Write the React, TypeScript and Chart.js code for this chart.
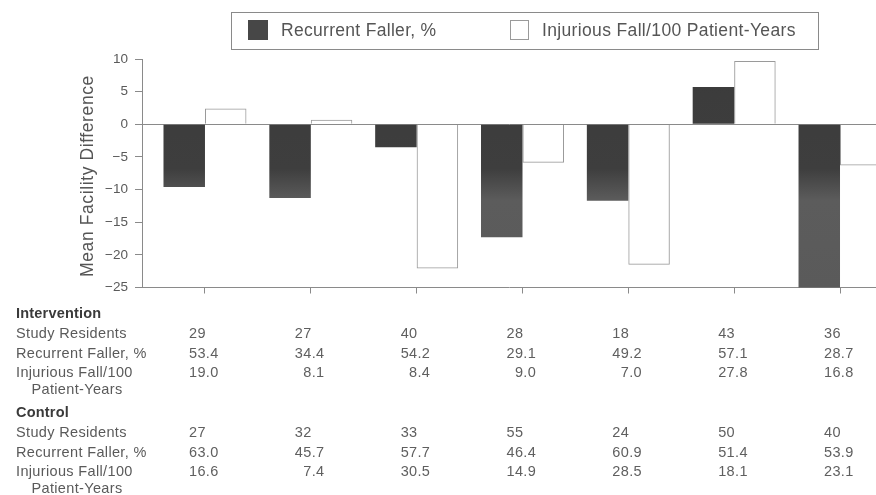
import React, { useEffect, useRef } from 'react';
import { Chart, registerables } from 'chart.js';

Chart.register(...registerables);

// ---- data ----
const facilityIndex = [0, 1, 2, 3, 4, 5, 6];
const seriesLabels = ['Recurrent Faller, %', 'Injurious Fall/100 Patient-Years'];
const recurrentFallerDiff = [-9.6, -11.3, -3.5, -17.3, -11.7, 5.7, -25.2];
const injuriousFallDiff = [2.4, 0.7, -22.1, -5.9, -21.5, 9.7, -6.3];
const yAxisTitle = 'Mean Facility Difference';
const yTickValues = [10, 5, 0, -5, -10, -15, -20, -25];

const interventionResidents = ['29', '27', '40', '28', '18', '43', '36'];
const interventionRecurrent = ['53.4', '34.4', '54.2', '29.1', '49.2', '57.1', '28.7'];
const interventionInjurious = ['19.0', '8.1', '8.4', '9.0', '7.0', '27.8', '16.8'];
const controlResidents = ['27', '32', '33', '55', '24', '50', '40'];
const controlRecurrent = ['63.0', '45.7', '57.7', '46.4', '60.9', '51.4', '53.9'];
const controlInjurious = ['16.6', '7.4', '30.5', '14.9', '28.5', '18.1', '23.1'];

const groupHeaders = ['Intervention', 'Control'];
const rowLabels = ['Study Residents', 'Recurrent Faller, %', 'Injurious Fall/100'];
const rowLabelCont = 'Patient-Years';

// ---- layout / style ----
const W = 876;
const H = 495;
const FONT = '"Liberation Sans", Arial, Helvetica, sans-serif';
const TEXT = '#555';
const AXIS = '#8a8a8a';

function drawText(
  ctx: CanvasRenderingContext2D,
  text: string,
  x: number,
  y: number,
  font: string,
  color: string,
  align: CanvasTextAlign = 'left',
  spacing = 0
) {
  ctx.save();
  ctx.font = font;
  ctx.fillStyle = color;
  ctx.textAlign = align;
  ctx.textBaseline = 'middle';
  (ctx as any).letterSpacing = spacing + 'px';
  ctx.fillText(text, x, y);
  ctx.restore();
}

function measure(ctx: CanvasRenderingContext2D, text: string, font: string, spacing: number) {
  ctx.save();
  ctx.font = font;
  (ctx as any).letterSpacing = spacing + 'px';
  const w = ctx.measureText(text).width;
  ctx.restore();
  return w;
}

const decorPlugin = {
  id: 'decor',
  afterDraw(chart: any) {
    const ctx: CanvasRenderingContext2D = chart.ctx;
    const xs = chart.scales.x;

    // legend box
    ctx.save();
    ctx.strokeStyle = AXIS;
    ctx.lineWidth = 1;
    ctx.strokeRect(231.5, 12.5, 587, 37);
    ctx.fillStyle = '#474747';
    ctx.fillRect(248, 20, 20, 20);
    ctx.strokeStyle = '#9a9a9a';
    ctx.strokeRect(510.5, 20.5, 18, 19);
    ctx.restore();
    const legendFont = `17.5px ${FONT}`;
    drawText(ctx, seriesLabels[0], 281, 31, legendFont, TEXT, 'left', 0.3);
    drawText(ctx, seriesLabels[1], 542, 31, legendFont, TEXT, 'left', 0.35);

    // y-axis title
    ctx.save();
    ctx.translate(88, 176);
    ctx.rotate(-Math.PI / 2);
    drawText(ctx, yAxisTitle, 0, 0, `17.5px ${FONT}`, TEXT, 'center', 0.6);
    ctx.restore();

    // table
    const labelFont = `14.5px ${FONT}`;
    const boldFont = `bold 14.5px ${FONT}`;
    const sp = 0.35;
    const decW = measure(ctx, '00.0', labelFont, sp);
    const groups = [
      { header: groupHeaders[0], rows: [interventionResidents, interventionRecurrent, interventionInjurious], y0: 314 },
      { header: groupHeaders[1], rows: [controlResidents, controlRecurrent, controlInjurious], y0: 413 },
    ];
    const rowOffsets = [20, 40, 59];
    groups.forEach((g) => {
      drawText(ctx, g.header, 16, g.y0, boldFont, '#3a3a3a', 'left', 0.2);
      g.rows.forEach((vals, r) => {
        const y = g.y0 + rowOffsets[r];
        drawText(ctx, rowLabels[r], 16, y, labelFont, '#5a5a5a', 'left', sp);
        vals.forEach((v, i) => {
          const cx = xs.getPixelForValue(facilityIndex[i]) - 16;
          if (v.includes('.')) {
            drawText(ctx, v, cx + decW, y, labelFont, '#5f5f5f', 'right', sp);
          } else {
            drawText(ctx, v, cx, y, labelFont, '#5f5f5f', 'left', sp);
          }
        });
      });
      drawText(ctx, rowLabelCont, 77, g.y0 + 76, labelFont, '#5a5a5a', 'center', sp);
    });
  },
};

export default function App() {
  const ref = useRef<HTMLCanvasElement | null>(null);

  useEffect(() => {
    document.body.style.margin = '0';
    const canvas = ref.current;
    if (!canvas) return;

    const darkFill = (c: any) => {
      const area = c.chart.chartArea;
      if (!area) return '#3e3e3e';
      const g = c.chart.ctx.createLinearGradient(0, area.top, 0, area.bottom);
      g.addColorStop(0, '#3b3b3b');
      g.addColorStop(0.48, '#3e3e3e');
      g.addColorStop(0.62, '#5c5c5c');
      g.addColorStop(1, '#5a5a5a');
      return g;
    };

    const chart = new Chart(canvas, {
      type: 'bar',
      data: {
        datasets: [
          {
            label: seriesLabels[0],
            data: facilityIndex.map((x, i) => ({ x, y: recurrentFallerDiff[i] })),
            backgroundColor: darkFill,
            borderWidth: 0,
          },
          {
            label: seriesLabels[1],
            data: facilityIndex.map((x, i) => ({ x, y: injuriousFallDiff[i] })),
            backgroundColor: 'rgba(255,255,255,0)',
            borderColor: '#9a9a9a',
            borderWidth: 1,
          },
        ],
      } as any,
      options: {
        animation: false,
        responsive: false,
        devicePixelRatio: 1,
        layout: { padding: { top: 59, left: 0, right: 0, bottom: 0 } },
        datasets: {
          bar: { barPercentage: 1, categoryPercentage: 0.784 },
        } as any,
        plugins: {
          legend: { display: false },
          tooltip: { enabled: false },
        },
        scales: {
          x: {
            type: 'linear',
            offset: false,
            min: -0.595,
            max: 6.34,
            afterBuildTicks: (s: any) => {
              s.ticks = facilityIndex.map((v) => ({ value: v }));
            },
            afterFit: (s: any) => {
              s.height = H - 287.5;
            },
            ticks: { callback: () => '', display: true },
            grid: {
              display: true,
              drawOnChartArea: false,
              drawTicks: true,
              tickLength: 6,
              tickColor: AXIS,
              offset: false,
            },
            border: { display: true, color: AXIS, width: 1 },
          },
          y: {
            type: 'linear',
            min: -25,
            max: 10,
            afterBuildTicks: (s: any) => {
              s.ticks = yTickValues.map((v) => ({ value: v }));
            },
            afterFit: (s: any) => {
              s.width = 142;
            },
            ticks: {
              color: '#5a5a5a',
              font: { family: FONT, size: 13.5 },
              padding: 7,
              callback: (v: any) => (Number(v) < 0 ? '\u2212' + Math.abs(Number(v)) : String(v)),
            },
            grid: {
              drawOnChartArea: true,
              color: (c: any) => (c.tick && c.tick.value === 0 ? AXIS : 'rgba(0,0,0,0)'),
              tickColor: AXIS,
              tickLength: 7,
            },
            border: { display: true, color: AXIS, width: 1 },
          },
        },
      } as any,
      plugins: [decorPlugin],
    });

    return () => chart.destroy();
  }, []);

  return (
    <div style={{ width: W, height: H, background: '#fff' }}>
      <canvas ref={ref} width={W} height={H} style={{ display: 'block' }} />
    </div>
  );
}
